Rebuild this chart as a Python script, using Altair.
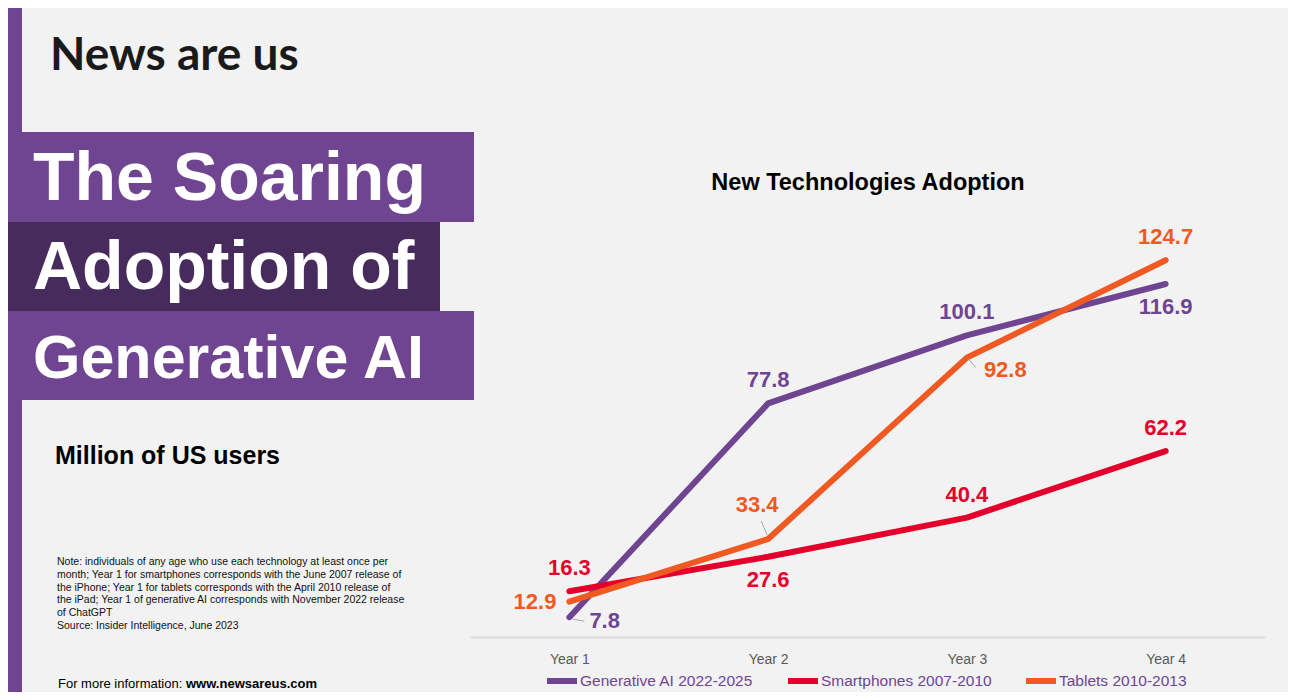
import altair as alt
import pandas as pd

# ---------------- data ----------------
years = ["Year 1", "Year 2", "Year 3", "Year 4"]
series_names = ["Generative AI 2022-2025", "Smartphones 2007-2010", "Tablets 2010-2013"]
genai_values = [7.8, 77.8, 100.1, 116.9]
smartphone_values = [16.3, 27.6, 40.4, 62.2]
tablet_values = [12.9, 33.4, 92.8, 124.7]
# where each value label sits relative to its point
genai_label_side = ["right", "above", "above", "below"]
smartphone_label_side = ["above", "below", "above", "above"]
tablet_label_side = ["left", "above_left", "lower_right", "above"]

series_colors = ["#6f4592", "#e4002b", "#f05a22"]

headline_lines = ["The Soaring", "Adoption of", "Generative AI"]
logo_text = "News are us"
subtitle_text = "Million of US users"
chart_title = "New Technologies Adoption"
note_lines = [
    "Note: individuals of any age who use each technology at least once per",
    "month; Year 1 for smartphones corresponds with the June 2007 release of",
    "the iPhone; Year 1 for tablets corresponds with the April 2010 release of",
    "the iPad; Year 1 of generative AI corresponds with November 2022 release",
    "of ChatGPT",
    "Source: Insider Intelligence, June 2023",
]
more_info_text = "For more information:"
more_info_url = "www.newsareus.com"

rows = []
for name, vals, sides in [
    (series_names[0], genai_values, genai_label_side),
    (series_names[1], smartphone_values, smartphone_label_side),
    (series_names[2], tablet_values, tablet_label_side),
]:
    for y, v, s in zip(years, vals, sides):
        rows.append({"year": y, "series": name, "value": v, "side": s})
df = pd.DataFrame(rows)
one = pd.DataFrame({"k": [0]})

W, H = 1280, 684
FONT = "Liberation Sans"
PURPLE = "#6f4592"
DARK_PURPLE = "#472b5c"

# ---------------- decorations ----------------
strip = alt.Chart(one).mark_rect(color=PURPLE).encode(
    x=alt.value(0), x2=alt.value(14), y=alt.value(0), y2=alt.value(H))
band1 = alt.Chart(one).mark_rect(color=PURPLE).encode(
    x=alt.value(0), x2=alt.value(466), y=alt.value(124), y2=alt.value(214))
band2 = alt.Chart(one).mark_rect(color=DARK_PURPLE).encode(
    x=alt.value(0), x2=alt.value(432), y=alt.value(214), y2=alt.value(303))
band3 = alt.Chart(one).mark_rect(color=PURPLE).encode(
    x=alt.value(0), x2=alt.value(466), y=alt.value(303), y2=alt.value(392))

head_sizes = [68, 68, 61]
head_base = [192, 281, 370]
headlines = [
    alt.Chart(one).mark_text(align="left", baseline="alphabetic", font=FONT,
                             fontWeight="bold", fontSize=fs, color="white").encode(
        x=alt.value(25), y=alt.value(yb), text=alt.value(t))
    for t, fs, yb in zip(headline_lines, head_sizes, head_base)
]

logo = alt.Chart(one).mark_text(align="left", baseline="alphabetic", font="Lato",
                                fontWeight="bold", fontSize=46, color="#1a1a1a").encode(
    x=alt.value(42), y=alt.value(62), text=alt.value(logo_text))

subtitle = alt.Chart(one).mark_text(align="left", baseline="middle", font=FONT,
                                    fontWeight="bold", fontSize=25, color="black").encode(
    x=alt.value(47), y=alt.value(448), text=alt.value(subtitle_text))

notes = alt.Chart(one).mark_text(align="left", baseline="middle", font=FONT,
                                 fontSize=10.5, lineHeight=12.8, color="#111111").encode(
    x=alt.value(49), y=alt.value(554), text=alt.value(note_lines))

more1 = alt.Chart(one).mark_text(align="left", baseline="alphabetic", font=FONT,
                                 fontSize=13, color="black").encode(
    x=alt.value(50), y=alt.value(680), text=alt.value(more_info_text))
more2 = alt.Chart(one).mark_text(align="left", baseline="alphabetic", font=FONT,
                                 fontSize=13, fontWeight="bold", color="black").encode(
    x=alt.value(178), y=alt.value(680), text=alt.value(more_info_url))

title = alt.Chart(one).mark_text(align="center", baseline="middle", font=FONT,
                                 fontWeight="bold", fontSize=23.5, color="black").encode(
    x=alt.value(860), y=alt.value(175), text=alt.value(chart_title))

# ---------------- line chart ----------------
xenc = alt.X("year:N", sort=years,
             scale=alt.Scale(type="point", domain=years, range=[462, 1257], padding=0.5),
             axis=alt.Axis(title=None, orient="bottom", offset=-55, domain=True,
                           domainColor="#dcdcdc", domainWidth=2, ticks=False, tickSize=0,
                           grid=False, labelFont=FONT, labelFontSize=14,
                           labelColor="#595959", labelPadding=15, labelAngle=0))
yenc = alt.Y("value:Q", scale=alt.Scale(domain=[0, 130], range=[633, 236]), axis=None)
cenc = alt.Color("series:N", sort=series_names,
                 scale=alt.Scale(domain=series_names, range=series_colors),
                 legend=alt.Legend(orient="none", legendX=536, legendY=655,
                                   direction="horizontal", title=None,
                                   symbolType="stroke", symbolSize=900,
                                   symbolStrokeWidth=6, labelFont=FONT,
                                   labelFontSize=15.5, labelColor=PURPLE,
                                   labelLimit=400, columnPadding=22,
                                   labelOffset=0, padding=0))

base = alt.Chart(df)

lines = base.mark_line(strokeWidth=6, strokeCap="round", strokeJoin="round").encode(
    x=xenc, y=yenc, color=cenc, detail="series:N", order=alt.Order("year:N"))

label_specs = {
    "above": dict(dx=0, dy=-23, align="center"),
    "below": dict(dx=0, dy=23, align="center"),
    "left": dict(dx=-13, dy=0, align="right"),
    "right": dict(dx=20, dy=4, align="left"),
    "lower_right": dict(dx=17, dy=12, align="left"),
    "above_left": dict(dx=-11, dy=-34, align="center"),
}
label_layers = []
for side, spec in label_specs.items():
    label_layers.append(
        base.transform_filter(alt.datum.side == side).mark_text(
            font=FONT, fontWeight="bold", fontSize=22, baseline="middle", **spec
        ).encode(x=xenc, y=yenc, color=cenc, text=alt.Text("value:Q", format=".1f"))
    )

leader_specs = {
    "right": dict(xOffset=3, yOffset=2, x2Offset=15, y2Offset=4),
    "above_left": dict(xOffset=-7, yOffset=-18, x2Offset=-1, y2Offset=-4),
    "lower_right": dict(xOffset=2, yOffset=2, x2Offset=9, y2Offset=10),
}
leader_layers = []
for side, spec in leader_specs.items():
    leader_layers.append(
        base.transform_filter(alt.datum.side == side).mark_rule(
            color="#a8a8a8", strokeWidth=1, **spec
        ).encode(x=xenc, y=yenc, x2=alt.X2("year:N"), y2=alt.Y2("value:Q"))
    )

chart = alt.layer(
    strip, band1, band2, band3, *headlines, logo, subtitle, notes, more1, more2, title,
    lines, *leader_layers, *label_layers
).properties(
    width=W, height=H, padding=0, autosize=alt.AutoSizeParams(type="none"),
    background="#f2f2f2"
).configure_view(stroke=None)

chart.save("out.html", embed_options={"renderer": "svg", "actions": False})
